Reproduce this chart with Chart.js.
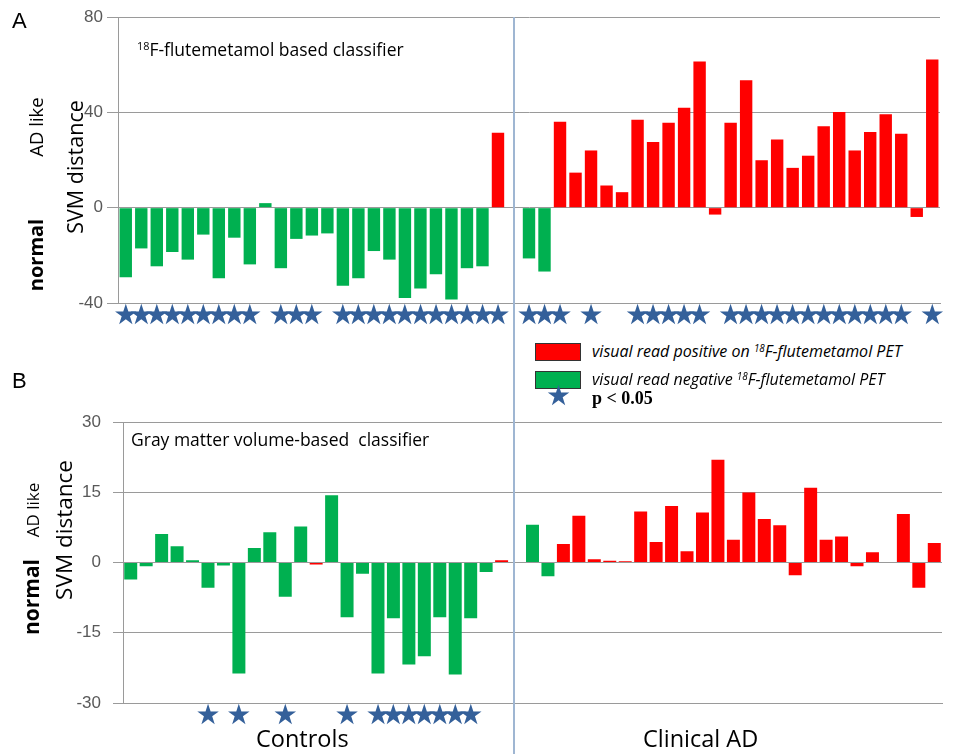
<!DOCTYPE html>
<html>
<head>
<meta charset="utf-8">
<script src="https://cdn.jsdelivr.net/npm/chart.js@4.4.1/dist/chart.umd.min.js"></script>
<style>
  html, body { margin: 0; padding: 0; background: #fff; }
  #page { position: relative; width: 964px; height: 754px; overflow: hidden; font-family: 'Open Sans', sans-serif; color: #000; }
  canvas { position: absolute; left: 0; }
  .txt { position: absolute; white-space: nowrap; }
  .rot { position: absolute; white-space: nowrap; transform: translate(-50%, -50%) rotate(-90deg); }
  .box { position: absolute; width: 44px; height: 16px; border: 1px solid #333; }
  sup { font-size: 0.62em; vertical-align: 0.55em; line-height: 0; }
</style>
</head>
<body>
<div id="page">
  <canvas id="chartA" width="964" height="340" style="top:0"></canvas>
  <canvas id="chartB" width="964" height="354" style="top:400px"></canvas>

  <div style="position:absolute;left:513px;top:17px;width:2px;height:737px;background:#9fb6d2"></div>

  <div class="txt" style="left:12px;top:8px;font-family:'Liberation Sans';font-size:22px">A</div>
  <div class="txt" style="left:12px;top:368px;font-family:'Liberation Sans';font-size:22px">B</div>

  <div class="txt" style="left:137px;top:37px;font-size:17.5px"><sup>18</sup>F-flutemetamol based classifier</div>
  <div class="txt" style="left:131px;top:427px;font-size:17.5px">Gray matter volume-based&nbsp; classifier</div>

  <div class="rot" style="left:74px;top:167px;font-size:21.5px">SVM distance</div>
  <div class="rot" style="left:35px;top:127px;font-size:18.5px">AD like</div>
  <div class="rot" style="left:35px;top:255px;font-size:20px;font-weight:bold">normal</div>

  <div class="rot" style="left:63px;top:530px;font-size:22.5px">SVM distance</div>
  <div class="rot" style="left:32px;top:510px;font-size:17px">AD like</div>
  <div class="rot" style="left:31px;top:597px;font-size:21px;font-weight:bold">normal</div>

  <div class="box" style="left:535px;top:343px;background:#ff0000"></div>
  <div class="box" style="left:535px;top:371px;background:#00b050"></div>
  <div class="txt" style="left:546px;top:379px;font-family:'DejaVu Sans';font-size:28px;color:#34609a">★</div>
  <div class="txt" style="left:592px;top:340px;font-size:16px;font-style:italic">visual read positive on <sup>18</sup>F-flutemetamol PET</div>
  <div class="txt" style="left:592px;top:368px;font-size:16px;font-style:italic">visual read negative <sup>18</sup>F-flutemetamol PET</div>
  <div class="txt" style="left:592px;top:388px;font-family:'Liberation Serif';font-size:18px;font-weight:bold">p &lt; 0.05</div>

  <div class="txt" style="left:256px;top:722px;font-size:23.5px">Controls</div>
  <div class="txt" style="left:643px;top:722px;font-size:23.5px">Clinical AD</div>
</div>

<script>
// Panel A: 18F-flutemetamol based classifier
const ctrlA = [-29.2, -17.1, -24.6, -18.6, -21.8, -11.3, -29.6, -12.6, -23.8, 1.9, -25.4, -13.1, -11.7,
  -10.8, -32.8, -29.6, -18.2, -21.8, -37.9, -33.9, -27.9, -38.5, -25.4, -24.6, 31.4];
const ctrlAPos = [0,0,0,0,0,0,0,0,0,0,0,0,0,0,0,0,0,0,0,0,0,0,0,0,1];
const ctrlASig = [1,1,1,1,1,1,1,1,1,0,1,1,1,0,1,1,1,1,1,1,1,1,1,1,1];

const adA = [-21.3, -26.8, 36.0, 14.7, 24.0, 9.3, 6.5, 36.9, 27.6, 35.6, 41.9, 61.3, -2.9, 35.6,
  53.5, 19.9, 28.6, 16.7, 21.8, 34.2, 40.1, 24.0, 31.8, 39.2, 31.0, -3.9, 62.2];
const adAPos = [0,0,1,1,1,1,1,1,1,1,1,1,1,1,1,1,1,1,1,1,1,1,1,1,1,1,1];
const adASig = [1,1,1,0,1,0,0,1,1,1,1,1,0,1,1,1,1,1,1,1,1,1,1,1,1,0,1];

// Panel B: gray matter volume-based classifier
const ctrlB = [-3.6, -0.8, 6.1, 3.5, 0.5, -5.4, -0.6, -23.7, 3.1, 6.5, -7.3, 7.7, -0.4, 14.4,
  -11.7, -2.4, -23.7, -11.9, -21.8, -20.0, -11.7, -23.9, -11.9, -2.0, 0.5];
const ctrlBPos = [0,0,0,0,0,0,0,0,0,0,0,0,1,0,0,0,0,0,0,0,0,0,0,0,1];
const ctrlBSig = [0,0,0,0,0,1,0,1,0,0,1,0,0,0,1,0,1,1,1,1,1,1,1,0,0];

const adB = [8.1, -2.9, 4.0, 10.0, 0.7, 0.4, 0.3, 10.9, 4.4, 12.1, 2.4, 10.7, 22.0, 4.9, 15.0,
  9.3, 8.0, -2.7, 16.0, 4.9, 5.6, -0.8, 2.2, 0, 10.4, -5.4, 4.2];
const adBPos = [0,0,1,1,1,1,1,1,1,1,1,1,1,1,1,1,1,1,1,1,1,1,1,1,1,1,1];
const adBSig = [0,0,0,0,0,0,0,0,0,0,0,0,0,0,0,0,0,0,0,0,0,0,0,0,0,0,0];

const ticksA = [-40, 0, 40, 80];
const ticksB = [-30, -15, 0, 15, 30];

const RED = '#ff0000';
const GREEN = '#00b050';
const GRID = '#9a9a9a';

// controls, one empty slot at the divider, then clinical AD
function join(ctrl, ad, fill) {
  return [...ctrl, fill, ...ad];
}

function makeChart(id, opts) {
  const values = join(opts.ctrl, opts.ad, null);
  const pos = join(opts.ctrlPos, opts.adPos, 0);
  const sig = join(opts.ctrlSig, opts.adSig, 0);

  return new Chart(document.getElementById(id), {
    type: 'bar',
    data: {
      labels: values.map((v, i) => String(i + 1)),
      datasets: [{
        data: values,
        backgroundColor: pos.map(p => p ? RED : GREEN),
        categoryPercentage: 1,
        barPercentage: opts.barPct
      }]
    },
    options: {
      responsive: false,
      animation: false,
      devicePixelRatio: 1,
      layout: { padding: opts.padding },
      plugins: { legend: { display: false }, tooltip: { enabled: false } },
      scales: {
        x: {
          grid: { display: false, drawTicks: false },
          border: { display: true, color: GRID, width: 1 },
          afterFit: s => { s.height = opts.xHeight; },
          ticks: {
            autoSkip: false,
            maxRotation: 0,
            minRotation: 0,
            padding: opts.starPad,
            color: '#34609a',
            font: { family: 'DejaVu Sans', size: 28 },
            callback: (v, i) => sig[i] ? '★' : ''
          }
        },
        y: {
          min: opts.ticks[0],
          max: opts.ticks[opts.ticks.length - 1],
          afterFit: s => { s.width = opts.yWidth; },
          afterBuildTicks: s => { s.ticks = opts.ticks.map(v => ({ value: v })); },
          grid: { color: GRID, tickLength: opts.tickLen, lineWidth: 1 },
          border: { color: GRID },
          ticks: {
            padding: opts.tickPad,
            color: '#595959',
            font: { family: 'Liberation Sans', size: 17 }
          }
        }
      }
    }
  });
}

makeChart('chartA', {
  ctrl: ctrlA, ad: adA, ctrlPos: ctrlAPos, adPos: adAPos, ctrlSig: ctrlASig, adSig: adASig,
  ticks: ticksA, barPct: 0.8,
  padding: { top: 17, right: 24, left: 0, bottom: 0 },
  yWidth: 118, xHeight: 37, tickLen: 11, tickPad: 4, starPad: -3
});

makeChart('chartB', {
  ctrl: ctrlB, ad: adB, ctrlPos: ctrlBPos, adPos: adBPos, ctrlSig: ctrlBSig, adSig: adBSig,
  ticks: ticksB, barPct: 0.84,
  padding: { top: 18, right: 22, left: 0, bottom: 0 },
  yWidth: 123, xHeight: 51, tickLen: 10, tickPad: 12, starPad: -3
});
</script>
</body>
</html>
